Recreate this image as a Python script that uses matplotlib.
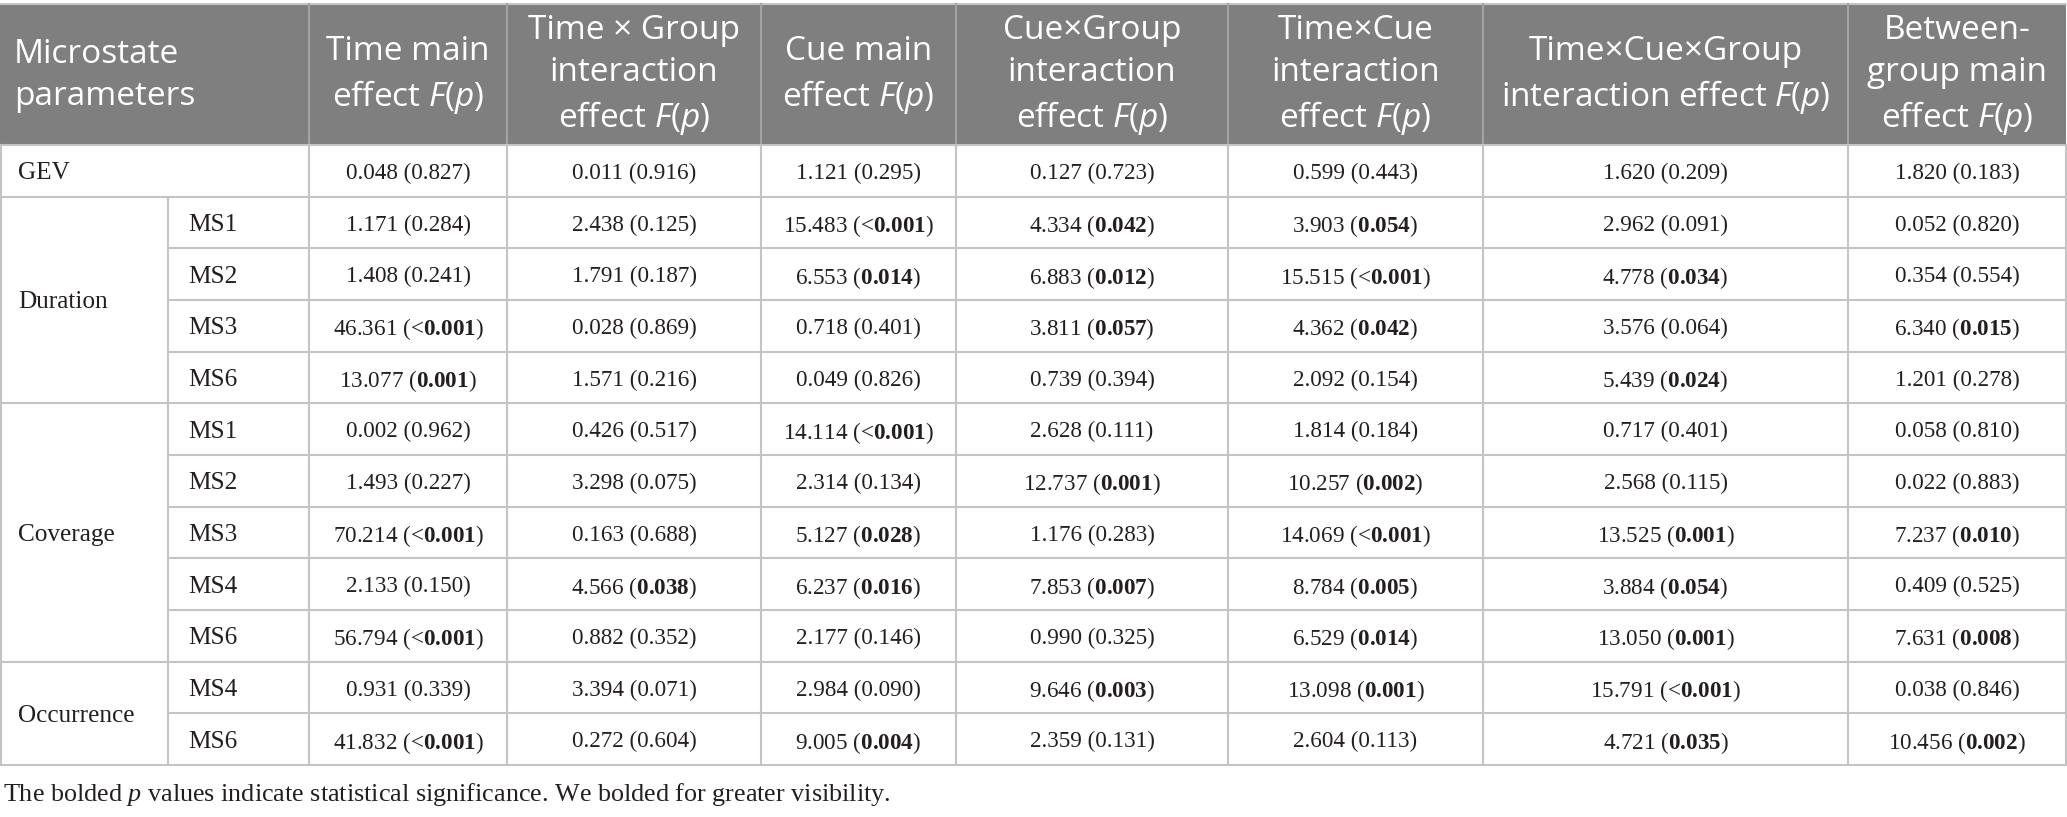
import numpy as np
import matplotlib
matplotlib.use("Agg")
import matplotlib.pyplot as plt
from matplotlib.patches import Rectangle

plt.rcParams['mathtext.fontset'] = 'custom'
plt.rcParams['mathtext.rm'] = 'Open Sans'
plt.rcParams['mathtext.it'] = 'Open Sans:italic'
plt.rcParams['mathtext.bf'] = 'Liberation Serif:bold'
plt.rcParams['mathtext.sf'] = 'Liberation Serif:italic'

# ---------------- data ----------------
headers = [
    "Microstate\nparameters",
    "Time main\neffect $F$($p$)",
    "Time × Group\ninteraction\neffect $F$($p$)",
    "Cue main\neffect $F$($p$)",
    "Cue×Group\ninteraction\neffect $F$($p$)",
    "Time×Cue\ninteraction\neffect $F$($p$)",
    "Time×Cue×Group\ninteraction effect $F$($p$)",
    "Between-\ngroup main\neffect $F$($p$)",
]
groups = ["GEV", "Duration", "Coverage", "Occurrence"]
group_sizes = [1, 4, 5, 2]
sub_labels = ["", "MS1", "MS2", "MS3", "MS6", "MS1", "MS2", "MS3", "MS4", "MS6", "MS4", "MS6"]

time_F = [0.048, 1.171, 1.408, 46.361, 13.077, 0.002, 1.493, 70.214, 2.133, 56.794, 0.931, 41.832]
time_p = ["0.827", "0.284", "0.241", "<0.001", "0.001", "0.962", "0.227", "<0.001", "0.150", "<0.001", "0.339", "<0.001"]
time_b = [0, 0, 0, 1, 1, 0, 0, 1, 0, 1, 0, 1]

tg_F = [0.011, 2.438, 1.791, 0.028, 1.571, 0.426, 3.298, 0.163, 4.566, 0.882, 3.394, 0.272]
tg_p = ["0.916", "0.125", "0.187", "0.869", "0.216", "0.517", "0.075", "0.688", "0.038", "0.352", "0.071", "0.604"]
tg_b = [0, 0, 0, 0, 0, 0, 0, 0, 1, 0, 0, 0]

cue_F = [1.121, 15.483, 6.553, 0.718, 0.049, 14.114, 2.314, 5.127, 6.237, 2.177, 2.984, 9.005]
cue_p = ["0.295", "<0.001", "0.014", "0.401", "0.826", "<0.001", "0.134", "0.028", "0.016", "0.146", "0.090", "0.004"]
cue_b = [0, 1, 1, 0, 0, 1, 0, 1, 1, 0, 0, 1]

cg_F = [0.127, 4.334, 6.883, 3.811, 0.739, 2.628, 12.737, 1.176, 7.853, 0.990, 9.646, 2.359]
cg_p = ["0.723", "0.042", "0.012", "0.057", "0.394", "0.111", "0.001", "0.283", "0.007", "0.325", "0.003", "0.131"]
cg_b = [0, 1, 1, 1, 0, 0, 1, 0, 1, 0, 1, 0]

tc_F = [0.599, 3.903, 15.515, 4.362, 2.092, 1.814, 10.257, 14.069, 8.784, 6.529, 13.098, 2.604]
tc_p = ["0.443", "0.054", "<0.001", "0.042", "0.154", "0.184", "0.002", "<0.001", "0.005", "0.014", "0.001", "0.113"]
tc_b = [0, 1, 1, 1, 0, 0, 1, 1, 1, 1, 1, 0]

tcg_F = [1.620, 2.962, 4.778, 3.576, 5.439, 0.717, 2.568, 13.525, 3.884, 13.050, 15.791, 4.721]
tcg_p = ["0.209", "0.091", "0.034", "0.064", "0.024", "0.401", "0.115", "0.001", "0.054", "0.001", "<0.001", "0.035"]
tcg_b = [0, 0, 1, 0, 1, 0, 0, 1, 1, 1, 1, 1]

bg_F = [1.820, 0.052, 0.354, 6.340, 1.201, 0.058, 0.022, 7.237, 0.409, 7.631, 0.038, 10.456]
bg_p = ["0.183", "0.820", "0.554", "0.015", "0.278", "0.810", "0.883", "0.010", "0.525", "0.008", "0.846", "0.002"]
bg_b = [0, 0, 0, 1, 0, 0, 0, 1, 0, 1, 0, 1]

footnote = "The bolded $\\mathsf{p}$ values indicate statistical significance. We bolded for greater visibility."

columns = [(time_F, time_p, time_b), (tg_F, tg_p, tg_b), (cue_F, cue_p, cue_b),
           (cg_F, cg_p, cg_b), (tc_F, tc_p, tc_b), (tcg_F, tcg_p, tcg_b), (bg_F, bg_p, bg_b)]

# ---------------- layout ----------------
W, H = 2067, 817
col_edges = [0, 168, 309, 507, 761, 956, 1228, 1483, 1848, 2066]
head_top, head_bot = 4, 145
row_edges = np.linspace(145, 765, 13)
HEAD_BG = '#7f7f7f'
HEAD_SEP = '#a3a3a3'
GRID = '#c4c4c4'
LW = 1.5
TXT = '#231f20'

fig = plt.figure(figsize=(W / 100, H / 100), dpi=100)
ax = fig.add_axes([0, 0, 1, 1])
ax.set_xlim(0, W)
ax.set_ylim(H, 0)
ax.axis('off')

# header
ax.add_patch(Rectangle((0, head_top), col_edges[-1], head_bot - head_top, color=HEAD_BG, lw=0))
ax.plot([0, col_edges[-1]], [head_top, head_top], color=GRID, lw=LW)
for x in col_edges[2:-1]:
    ax.plot([x, x], [head_top, head_bot], color=HEAD_SEP, lw=LW)

hy = (head_top + head_bot) / 2 + 1
hfont = dict(family='Open Sans', size=24, color='white', linespacing=1.35)
ax.text(14, hy, headers[0], ha='left', va='center', **hfont)
for i, h in enumerate(headers[1:]):
    xc = (col_edges[i + 2] + col_edges[i + 3]) / 2
    ax.text(xc, hy, h, ha='center', va='center', multialignment='center', **hfont)

# body grid
dfont = dict(family='Liberation Serif', size=16.7, color=TXT)
lfont = dict(family='Liberation Serif', size=18.2, color=TXT)
xl, xr = col_edges[0] + 1, col_edges[-1]
for x in [xl] + col_edges[2:-1] + [xr]:
    ax.plot([x, x], [row_edges[0], row_edges[-1]], color=GRID, lw=LW)
ax.plot([col_edges[1]] * 2, [row_edges[1], row_edges[-1]], color=GRID, lw=LW)

bounds = np.cumsum([0] + group_sizes)
for r in range(len(row_edges)):
    y = row_edges[r]
    x0 = xl if r in bounds else col_edges[1]
    ax.plot([x0, xr], [y, y], color=GRID, lw=LW)

# group labels
for g, s, e in zip(groups, bounds[:-1], bounds[1:]):
    yc = (row_edges[s] + row_edges[e]) / 2
    ax.text(18, yc, g, ha='left', va='center_baseline', **lfont)

# sub labels
for r, lab in enumerate(sub_labels):
    if lab:
        yc = (row_edges[r] + row_edges[r + 1]) / 2
        ax.text(col_edges[1] + 20, yc, lab, ha='left', va='center_baseline', **lfont)

# values
for c, (Fs, ps, bs) in enumerate(columns):
    xc = (col_edges[c + 2] + col_edges[c + 3]) / 2
    for r in range(len(Fs)):
        p = ps[r]
        if bs[r]:
            if p.startswith('<'):
                ptxt = "<$\\mathbf{" + p[1:] + "}$"
            else:
                ptxt = "$\\mathbf{" + p + "}$"
        else:
            ptxt = p
        txt = f"{Fs[r]:.3f} ({ptxt})"
        yc = (row_edges[r] + row_edges[r + 1]) / 2
        ax.text(xc, yc, txt, ha='center', va='center_baseline', **dfont)

ax.text(3, 791, footnote, ha='left', va='center_baseline', family='Liberation Serif', size=18.8, color=TXT)

fig.savefig('out.png', dpi=100)
